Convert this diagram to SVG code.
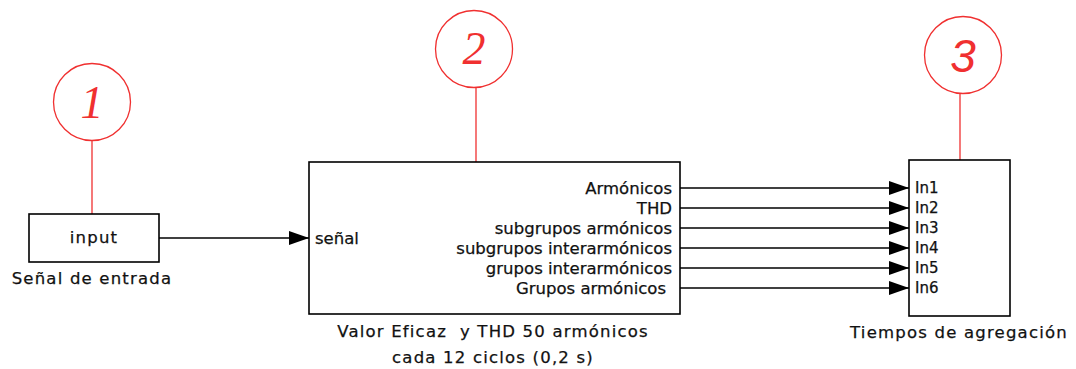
<svg xmlns="http://www.w3.org/2000/svg" width="1076" height="369" viewBox="0 0 1076 369">
<style>
.blk{fill:#fff;stroke:#000;stroke-width:1.6}
.lbl{font-family:"DejaVu Sans",sans-serif;font-size:16.5px;fill:#111;stroke:#111;stroke-width:0.25}
.cap{font-family:"DejaVu Sans",sans-serif;font-size:16.5px;letter-spacing:1.2px;fill:#111;stroke:#111;stroke-width:0.25}
.inl{font-family:"DejaVu Sans",sans-serif;font-size:15px;fill:#111;stroke:#111;stroke-width:0.25}
.tag{fill:none;stroke:#f03030;stroke-width:1.3}
.num{font-family:"Liberation Serif",serif;font-style:italic;font-size:46px;fill:#f03030;text-anchor:middle}
.wire{stroke:#000;stroke-width:1.6;fill:none}
</style>
<defs>
<marker id="arr" markerWidth="20" markerHeight="14" refX="20" refY="7" orient="auto" markerUnits="userSpaceOnUse">
<path d="M0,0 L20,7 L0,14 Z" fill="#000"/>
</marker>
</defs>
<g id="tags">
<circle class="tag" cx="92" cy="102" r="38.5"/>
<line class="tag" x1="92" y1="140.5" x2="92" y2="214"/>
<text class="num" x="92" y="118">1</text>
<circle class="tag" cx="474" cy="49" r="38.5"/>
<line class="tag" x1="476" y1="87.5" x2="476" y2="162"/>
<text class="num" x="474" y="64">2</text>
<circle class="tag" cx="963" cy="55" r="38.5"/>
<line class="tag" x1="960" y1="93.5" x2="960" y2="160"/>
<text class="num" x="963" y="72" style="font-family:'Liberation Sans',sans-serif">3</text>
</g>
<g id="connectors">
<line class="wire" x1="159" y1="238" x2="309" y2="238" marker-end="url(#arr)"/>
<line class="wire" x1="680" y1="188" x2="909" y2="188" marker-end="url(#arr)"/>
<line class="wire" x1="680" y1="208" x2="909" y2="208" marker-end="url(#arr)"/>
<line class="wire" x1="680" y1="228" x2="909" y2="228" marker-end="url(#arr)"/>
<line class="wire" x1="680" y1="248" x2="909" y2="248" marker-end="url(#arr)"/>
<line class="wire" x1="680" y1="268" x2="909" y2="268" marker-end="url(#arr)"/>
<line class="wire" x1="680" y1="288" x2="909" y2="288" marker-end="url(#arr)"/>
</g>
<g id="node-input">
<rect class="blk" x="29" y="214" width="130" height="48"/>
<text class="cap" x="94" y="243" text-anchor="middle">input</text>
<text class="cap" x="92" y="284" text-anchor="middle">Señal de entrada</text>
</g>
<g id="node-valor">
<rect class="blk" x="309" y="162" width="371" height="152"/>
<text class="lbl" x="315" y="244">señal</text>
<g text-anchor="end">
<text class="lbl" x="672" y="194">Armónicos</text>
<text class="lbl" x="672" y="214">THD</text>
<text class="lbl" x="672" y="234">subgrupos armónicos</text>
<text class="lbl" x="672" y="254">subgrupos interarmónicos</text>
<text class="lbl" x="672" y="274">grupos interarmónicos</text>
<text class="lbl" x="666" y="294">Grupos armónicos</text>
</g>
<text class="cap" x="493" y="337" text-anchor="middle" xml:space="preserve">Valor Eficaz  y THD 50 armónicos</text>
<text class="cap" x="493" y="363" text-anchor="middle">cada 12 ciclos (0,2 s)</text>
</g>
<g id="node-tiempos">
<rect class="blk" x="909" y="160" width="101" height="156"/>
<g class="inl">
<text x="915" y="193">In1</text>
<text x="915" y="213">In2</text>
<text x="915" y="233">In3</text>
<text x="915" y="253">In4</text>
<text x="915" y="273">In5</text>
<text x="915" y="293">In6</text>
</g>
<text class="cap" x="959" y="338" text-anchor="middle">Tiempos de agregación</text>
</g>
</svg>
